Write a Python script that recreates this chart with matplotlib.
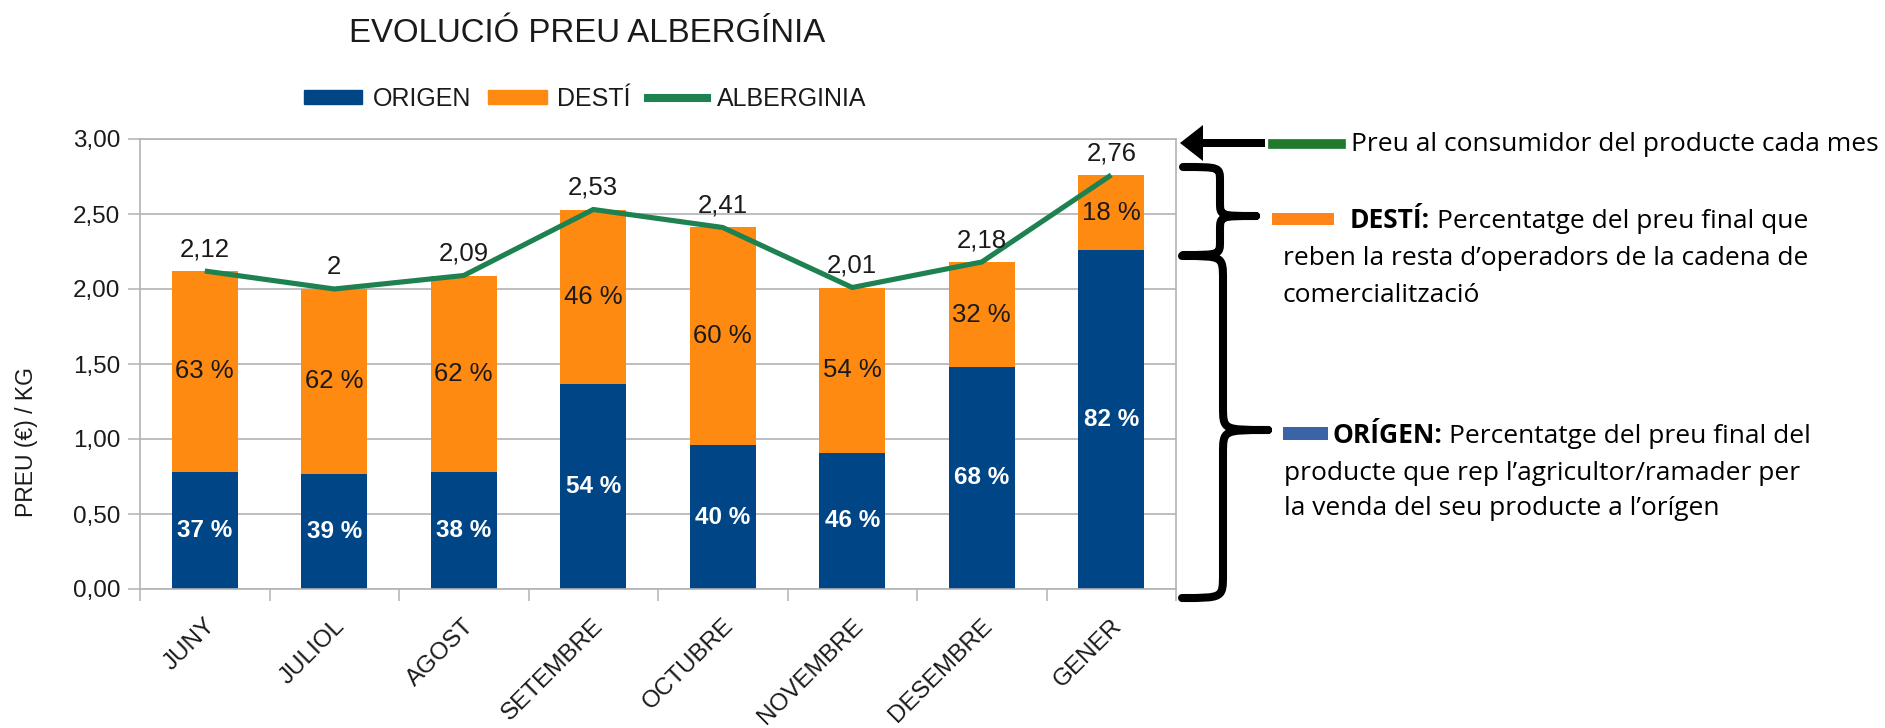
import matplotlib
matplotlib.use("Agg")
import matplotlib.pyplot as plt
import numpy as np
from matplotlib.path import Path
from matplotlib.patches import PathPatch, Rectangle, FancyArrow
from matplotlib.lines import Line2D
from matplotlib.transforms import ScaledTranslation

plt.rcParams['font.family'] = ['Liberation Sans', 'DejaVu Sans']

# ---------------- data ----------------
months = ["JUNY", "JULIOL", "AGOST", "SETEMBRE", "OCTUBRE", "NOVEMBRE", "DESEMBRE", "GENER"]
preu_total = [2.12, 2.00, 2.09, 2.53, 2.41, 2.01, 2.18, 2.76]
preu_labels = ["2,12", "2", "2,09", "2,53", "2,41", "2,01", "2,18", "2,76"]
origen = [0.78, 0.77, 0.78, 1.37, 0.96, 0.91, 1.48, 2.26]
pct_origen = [37, 39, 38, 54, 40, 46, 68, 82]
pct_desti = [63, 62, 62, 46, 60, 54, 32, 18]
yticks = [0.0, 0.5, 1.0, 1.5, 2.0, 2.5, 3.0]

desti = [t - o for t, o in zip(preu_total, origen)]

BLUE = "#004586"
ORANGE = "#ff8a12"
GREEN = "#1d8150"
GRID = "#b3b3b3"
TXT = "#1a1a1a"

W, H = 1885, 728
fig = plt.figure(figsize=(W / 100, H / 100), dpi=100)

def px(x0, y0, x1, y1):
    return [x0 / W, 1 - y1 / H, (x1 - x0) / W, (y1 - y0) / H]

ax = fig.add_axes(px(140, 139, 1176, 589))
x = np.arange(len(months))

ax.bar(x, origen, width=0.51, color=BLUE, zorder=2, label="ORIGEN")
ax.bar(x, desti, width=0.51, bottom=origen, color=ORANGE, zorder=2, label="DESTÍ")
ax.plot(x, preu_total, color=GREEN, lw=3.7, zorder=3, label="ALBERGINIA",
        solid_capstyle='butt', solid_joinstyle='miter')

for i in range(len(months)):
    ax.text(x[i], origen[i] / 2, f"{pct_origen[i]} %", ha='center', va='center',
            color='white', fontsize=17.5, fontweight='bold', zorder=4)
    ax.text(x[i], origen[i] + desti[i] / 2, f"{pct_desti[i]} %", ha='center', va='center',
            color=TXT, fontsize=18.5, zorder=4)
    ax.annotate(preu_labels[i], xy=(x[i], preu_total[i]), xytext=(0, 10.5),
                textcoords='offset points', ha='center', va='baseline',
                fontsize=18.5, color=TXT, zorder=4)

ax.set_xlim(-0.5, len(months) - 0.5)
ax.set_ylim(0, 3)
ax.set_yticks(yticks)
ax.set_yticklabels([f"{v:.2f}".replace('.', ',') for v in yticks])
ax.yaxis.grid(True, color=GRID, lw=1.2, zorder=0)
ax.set_axisbelow(True)
for s in ax.spines.values():
    s.set_color(GRID)
    s.set_linewidth(1.2)
ax.tick_params(axis='y', length=8.6, width=1.1, color=GRID, pad=5.5,
               labelsize=17.5, labelcolor=TXT)

ax.set_xticks(x)
ax.set_xticks(np.arange(-0.5, len(months)), minor=True)
ax.tick_params(axis='x', which='major', length=0, pad=24, labelsize=17.5, labelcolor=TXT)
ax.tick_params(axis='x', which='minor', length=8.6, width=1.1, color=GRID)
ax.set_xticklabels(months, rotation=45, ha='right', va='center', rotation_mode='anchor')
for lab in ax.get_xticklabels():
    lab.set_transform(lab.get_transform() + ScaledTranslation(0.07, 0, fig.dpi_scale_trans))

# title, y label, legend
fig.text(587 / W, 1 - 34 / H, "EVOLUCIÓ PREU ALBERGÍNIA", ha='center', va='center',
         fontsize=23.8, color=TXT)
fig.text(26 / W, 1 - 442 / H, "PREU (€) / KG", rotation=90, ha='center', va='center',
         fontsize=16.5, color=TXT)

handles = [Rectangle((0, 0), 1, 1, color=BLUE), Rectangle((0, 0), 1, 1, color=ORANGE),
           Line2D([], [], color=GREEN, lw=5.8)]
fig.legend(handles, ["ORIGEN", "DESTÍ", "ALBERGINIA"], loc='center',
           bbox_to_anchor=(585 / W, 1 - 99 / H), ncol=3, frameon=False,
           fontsize=18, handlelength=2.35, handleheight=0.5, handletextpad=0.4,
           columnspacing=0.7, labelcolor=TXT, borderpad=0)

# ---------------- right annotations (pixel overlay) ----------------
ov = fig.add_axes([0, 0, 1, 1], facecolor='none')
ov.set_xlim(0, W)
ov.set_ylim(H, 0)
ov.axis('off')

ov.add_patch(FancyArrow(1265, 143, -62, 0, width=8, head_width=36, head_length=23,
                        length_includes_head=False, color='black', lw=0))
ov.add_line(Line2D([1273, 1341], [144, 144], color="#1f7a2e", lw=7))


def brace(xt, yt, yb, xm, xp, yp, r):
    verts = [(xt, yt), (xm, yt), (xm, yt), (xm, yt + r),
             (xm, yp - r), (xm, yp), (xm, yp), (xp, yp),
             (xm, yp), (xm, yp), (xm, yp + r),
             (xm, yb - r), (xm, yb), (xm, yb), (xt, yb)]
    codes = [Path.MOVETO, Path.CURVE4, Path.CURVE4, Path.CURVE4,
             Path.LINETO, Path.CURVE4, Path.CURVE4, Path.CURVE4,
             Path.CURVE4, Path.CURVE4, Path.CURVE4,
             Path.LINETO, Path.CURVE4, Path.CURVE4, Path.CURVE4]
    ov.add_patch(PathPatch(Path(verts, codes), fill=False, lw=5.8, ec='black',
                           capstyle='round', joinstyle='round'))


brace(1183, 167, 255, 1220, 1256, 216, 14)
brace(1182, 256, 598, 1223, 1268, 430, 24)

ov.add_patch(Rectangle((1272, 213), 62, 12, color="#ff8419", lw=0))
ov.add_patch(Rectangle((1283, 427), 45, 13, color="#3b64a6", lw=0))

RF = ['Open Sans', 'DejaVu Sans']
FS = 19
ov.text(1351, 151, "Preu al consumidor del producte cada mes", fontsize=FS,
        family=RF, va='baseline', ha='left', color='black')

renderer = fig.canvas.get_renderer()


def rich(xs, y, bold, rest):
    t = ov.text(xs, y, bold, fontsize=FS, family=RF, fontweight='bold',
                va='baseline', ha='left', color='black')
    bb = t.get_window_extent(renderer)
    ov.text(xs + bb.width + 7, y, rest, fontsize=FS, family=RF, va='baseline',
            ha='left', color='black')


rich(1350, 228, "DESTÍ:", "Percentatge del preu final que")
ov.text(1283, 265, "reben la resta d’operadors de la cadena de", fontsize=FS, family=RF,
        va='baseline', ha='left', color='black')
ov.text(1283, 302, "comercialització", fontsize=FS, family=RF, va='baseline', ha='left',
        color='black')

rich(1332, 443, "ORÍGEN:", "Percentatge del preu final del")
ov.text(1284, 480, "producte que rep l’agricultor/ramader per", fontsize=FS, family=RF,
        va='baseline', ha='left', color='black')
ov.text(1284, 515, "la venda del seu producte a l’orígen", fontsize=FS, family=RF,
        va='baseline', ha='left', color='black')

fig.savefig("out.png", dpi=100)
